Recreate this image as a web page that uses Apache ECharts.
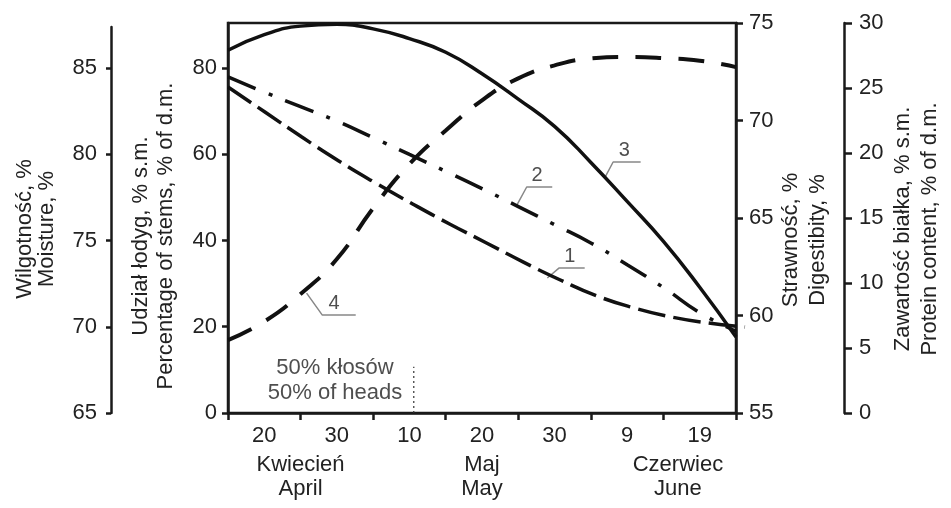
<!DOCTYPE html>
<html><head><meta charset="utf-8">
<script src="https://cdn.jsdelivr.net/npm/echarts@6/dist/echarts.min.js"></script>
<style>html,body{margin:0;padding:0;background:#fff}#c{width:951px;height:508px}</style>
</head><body><div id="c"></div>
<script>
// x categories (10-day periods, April 20 .. June 19)
const categories = ['20', '30', '10', '20', '30', '9', '19'];
// month labels placed on a day scale (day 0 = April 15, day 70 = June 24)
const monthDays = [10, 35, 62];
const monthLabels = ['Kwiecień\nApril', 'Maj\nMay', 'Czerwiec\nJune'];

// sampling days for the curves
const days = [0, 5, 10, 15, 20, 25, 30, 35, 40, 45, 50, 55, 60, 65, 70];
// curve 1 – moisture, %
const moisture = [83.9, 82.45, 81.0, 79.61, 78.33, 77.12, 75.96, 74.86, 73.75, 72.71, 71.78, 71.09, 70.57, 70.22, 69.99];
// curve 2 – protein content, % of d.m.
const protein = [25.85, 24.68, 23.56, 22.45, 21.18, 19.89, 18.59, 17.26, 15.88, 14.49, 13.08, 11.41, 9.65, 7.72, 6.3];
// curve 3 – digestibility, %
const digestibility = [73.6, 74.4, 74.84, 74.93, 74.7, 74.2, 73.5, 72.4, 71.1, 69.7, 67.85, 65.85, 63.8, 61.45, 58.9];
// curve 4 – percentage of stems, % of d.m.
const stems = [16.9, 21.2, 27.6, 35.7, 47.5, 57.7, 65.5, 72.5, 77.6, 80.6, 82.2, 82.55, 82.3, 81.7, 80.2];

// axis ticks
const stemsTicks = [0, 20, 40, 60, 80];
const moistureTicks = [65, 70, 75, 80, 85];

// curve number annotations (day, stems-scale value)
const leaderLabels = ['1', '2', '3', '4'];
const leader1 = [[44.0, 31.3], [45.6, 33.6], [49.15, 33.6]];
const leader2 = [[39.8, 48.2], [41.16, 52.4], [44.68, 52.4]];
const leader3 = [[52.0, 54.8], [53.07, 58.2], [56.86, 58.2]];
const leader4 = [[10.83, 27.8], [13.0, 22.7], [17.6, 22.7]];
const leaderLabelPos = [[47.1, 33.6], [42.6, 52.4], [54.6, 58.2], [14.6, 22.7]];

// 50% heading marker
const headingLine = [[25.6, 0], [25.6, 10.7]];
const headingTextPos = [14.75, 7.54];
const headingText = '50% kłosów\n50% of heads';

const FONT = '"Liberation Sans", Arial, sans-serif';
const INK = '#1a1a1a';
const TXT = '#222';
const axLine = { show: true, onZero: false, lineStyle: { color: INK, width: 2.5 } };
const axTick = { show: true, length: 6, lineStyle: { color: INK, width: 2.5 } };
const lbl = (m) => ({ color: TXT, fontSize: 22, fontFamily: FONT, margin: m });
const nameStyle = (lh, padR) => ({ color: TXT, fontSize: 22, fontFamily: FONT, lineHeight: lh, padding: [0, padR, 0, 0] });

const chart = echarts.init(document.getElementById('c'), null, { renderer: 'canvas' });

const leaderSeries = [leader1, leader2, leader3, leader4].map(l => ({
  type: 'line', xAxisIndex: 1, yAxisIndex: 0, data: l, symbol: 'none', silent: true,
  lineStyle: { color: '#888', width: 1.5 }, z: 3
}));

chart.setOption({
  animation: false,
  backgroundColor: '#fff',
  grid: [
    { left: 228, right: 206, top: 23, bottom: 95, show: true, borderColor: INK, borderWidth: 2.5, backgroundColor: 'transparent' },
    { left: 228, right: 206, top: 27, bottom: 95, show: false }
  ],
  xAxis: [
    {
      type: 'category', gridIndex: 0, position: 'bottom', data: categories, boundaryGap: true,
      axisLine: axLine, axisTick: { show: true, length: 7, lineStyle: { color: INK, width: 2.5 } },
      axisLabel: Object.assign(lbl(12), { interval: 0 }), splitLine: { show: false }
    },
    {
      type: 'value', gridIndex: 0, position: 'bottom', min: 0, max: 70,
      axisLine: { show: false, onZero: false }, axisTick: { show: false }, splitLine: { show: false },
      axisLabel: Object.assign(lbl(40), {
        lineHeight: 24, customValues: monthDays,
        formatter: v => { const i = monthDays.indexOf(v); return i >= 0 ? monthLabels[i] : ''; }
      })
    },
    {
      type: 'value', gridIndex: 1, position: 'bottom', min: 0, max: 70,
      axisLine: { show: false, onZero: false }, axisTick: { show: false }, axisLabel: { show: false }, splitLine: { show: false }
    }
  ],
  yAxis: [
    {
      type: 'value', gridIndex: 0, position: 'left', min: 0, max: 90.43,
      axisLine: axLine, axisTick: Object.assign({}, axTick, { customValues: stemsTicks }),
      axisLabel: Object.assign(lbl(11), { customValues: stemsTicks }), splitLine: { show: false },
      name: 'Udział łodyg, % s.m.\nPercentage of stems, % of d.m.', nameLocation: 'middle', nameGap: 50,
      nameMoveOverlap: false, nameTextStyle: nameStyle(25, 36)
    },
    {
      type: 'value', gridIndex: 0, position: 'right', min: 55, max: 75, interval: 5,
      axisLine: axLine, axisTick: Object.assign({}, axTick, { length: 7 }),
      axisLabel: lbl(13), splitLine: { show: false },
      name: 'Strawność, %\nDigestibity, %', nameLocation: 'middle', nameGap: 41,
      nameMoveOverlap: false, nameTextStyle: nameStyle(27, 44)
    },
    {
      type: 'value', gridIndex: 0, position: 'right', offset: 108, min: 0, max: 30, interval: 5,
      axisLine: axLine, axisTick: Object.assign({}, axTick, { length: 8 }),
      axisLabel: lbl(15), splitLine: { show: false },
      name: 'Zawartość białka, % s.m.\nProtein content, % of d.m.', nameLocation: 'middle', nameGap: 45,
      nameMoveOverlap: false, nameTextStyle: nameStyle(27, 22)
    },
    {
      type: 'value', gridIndex: 1, position: 'left', offset: 117, min: 65, max: 87.38,
      axisLine: axLine, axisTick: Object.assign({}, axTick, { length: 5, customValues: moistureTicks }),
      axisLabel: Object.assign(lbl(14), { customValues: moistureTicks }), splitLine: { show: false },
      name: 'Wilgotność, %\nMoisture, %', nameLocation: 'middle', nameGap: 53,
      nameMoveOverlap: false, nameTextStyle: nameStyle(22, 18)
    }
  ],
  series: [
    {
      name: '1', type: 'line', xAxisIndex: 2, yAxisIndex: 3, smooth: true, symbol: 'none',
      data: days.map((d, i) => [d, moisture[i]]),
      lineStyle: { color: '#111', width: 3.5, type: [28, 8] }, z: 5
    },
    {
      name: '2', type: 'line', xAxisIndex: 1, yAxisIndex: 2, smooth: true, symbol: 'none',
      data: days.map((d, i) => [d, protein[i]]),
      lineStyle: { color: '#111', width: 3.5, type: [30, 14, 4, 14] }, z: 5
    },
    {
      name: '3', type: 'line', xAxisIndex: 1, yAxisIndex: 1, smooth: true, symbol: 'none',
      data: days.map((d, i) => [d, digestibility[i]]),
      lineStyle: { color: '#111', width: 3.5 }, z: 5
    },
    {
      name: '4', type: 'line', xAxisIndex: 1, yAxisIndex: 0, smooth: true, symbol: 'none',
      data: days.map((d, i) => [d, stems[i]]),
      lineStyle: { color: '#111', width: 4, type: [26, 17] }, z: 5
    },
    ...leaderSeries,
    {
      type: 'scatter', xAxisIndex: 1, yAxisIndex: 0, symbolSize: 0, silent: true, z: 6,
      data: leaderLabelPos.map((p, i) => ({ value: p, label: { formatter: leaderLabels[i] } })),
      label: { show: true, position: 'top', distance: 2, color: TXT, fontSize: 20, fontFamily: FONT }
    },
    {
      type: 'line', xAxisIndex: 1, yAxisIndex: 0, data: headingLine, symbol: 'none', silent: true,
      lineStyle: { color: '#333', width: 1.2, type: [2, 3] }, z: 3
    },
    {
      type: 'scatter', xAxisIndex: 1, yAxisIndex: 0, symbolSize: 0, silent: true, z: 6,
      data: [{ value: headingTextPos }],
      label: { show: true, position: 'inside', formatter: headingText, color: TXT, fontSize: 22, lineHeight: 25, fontFamily: FONT }
    }
  ]
});
</script></body></html>
